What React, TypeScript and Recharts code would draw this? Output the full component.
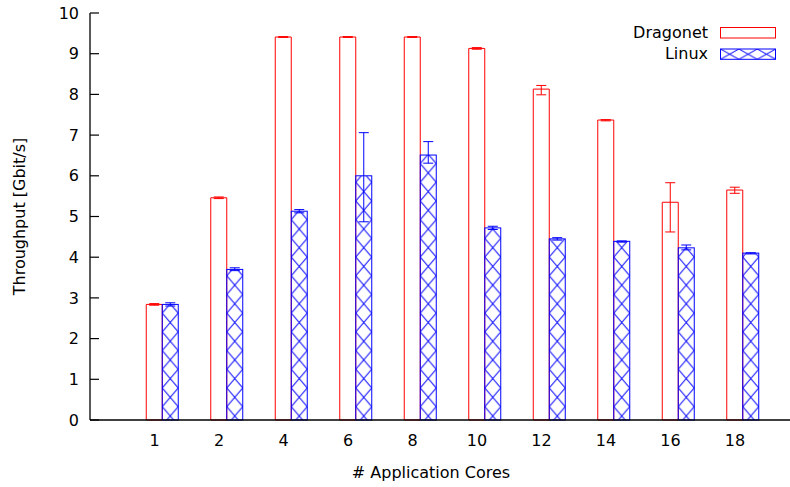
import { BarChart, Bar, XAxis, YAxis, ErrorBar, Label } from "recharts";

// # application cores on the x axis
const cores = ["1", "2", "4", "6", "8", "10", "12", "14", "16", "18"];

// Dragonet throughput (Gbit/s): mean, lower and upper error bound
const dragonetMean = [2.84, 5.46, 9.41, 9.41, 9.41, 9.13, 8.13, 7.37, 5.35, 5.65];
const dragonetLow = [2.82, 5.44, 9.4, 9.4, 9.4, 9.11, 7.99, 7.35, 4.62, 5.57];
const dragonetHigh = [2.86, 5.48, 9.42, 9.42, 9.42, 9.15, 8.22, 7.38, 5.83, 5.72];

// Linux throughput (Gbit/s)
const linuxMean = [2.84, 3.7, 5.13, 6.0, 6.51, 4.72, 4.45, 4.39, 4.23, 4.1];
const linuxLow = [2.8, 3.67, 5.09, 4.87, 6.31, 4.68, 4.42, 4.37, 4.18, 4.08];
const linuxHigh = [2.88, 3.74, 5.17, 7.06, 6.84, 4.76, 4.48, 4.4, 4.3, 4.11];

const yTicks = [0, 1, 2, 3, 4, 5, 6, 7, 8, 9, 10];

const data = cores.map((c, i) => ({
  cores: c,
  dragonet: dragonetMean[i],
  dragonetErr: [dragonetMean[i] - dragonetLow[i], dragonetHigh[i] - dragonetMean[i]],
  linux: linuxMean[i],
  linuxErr: [linuxMean[i] - linuxLow[i], linuxHigh[i] - linuxMean[i]],
}));

const RED = "#ff0000";
const BLUE = "#0000ff";
const FONT = "'DejaVu Sans', sans-serif";
const TICK_LEN = 9;
const PAD_L = 32.25;
const PAD_R = 22.75;

const HatchBar = (props: any) => {
  const { x, y, width, height, index } = props;
  if (!height || height <= 0) return null;
  const id = `hatch-${index}`;
  const period = 18.7;
  const bottom = y + height;
  return (
    <g>
      <defs>
        <pattern
          id={id}
          patternUnits="userSpaceOnUse"
          x={x}
          y={bottom - 4 - period / 2}
          width={width}
          height={period}
        >
          <path
            d={`M0,0L${width},${period}M${width},0L0,${period}`}
            stroke={BLUE}
            strokeWidth={1}
            fill="none"
          />
        </pattern>
      </defs>
      <rect x={x} y={y} width={width} height={height} fill={`url(#${id})`} stroke={BLUE} strokeWidth={1} />
    </g>
  );
};

// y label plus inward tick marks along the left border
const YLabel = (props: any) => {
  const { viewBox } = props;
  const cx = viewBox.x + 25;
  const cy = viewBox.y + viewBox.height / 2;
  const right = viewBox.x + viewBox.width;
  const top = yTicks[yTicks.length - 1];
  return (
    <g>
      {yTicks.map((v) => {
        const ty = viewBox.y + viewBox.height * (1 - v / top);
        return <path key={v} d={`M${right},${ty}h${TICK_LEN}`} stroke="#000" strokeWidth={1.2} fill="none" />;
      })}
      <text
        x={cx}
        y={cy}
        transform={`rotate(-90 ${cx} ${cy})`}
        textAnchor="middle"
        fontSize={16}
        fill="#000"
        fontFamily={FONT}
      >
        Throughput [Gbit/s]
      </text>
    </g>
  );
};

// mirrored x tick marks hanging from the top border
const TopTicks = (props: any) => {
  const { viewBox } = props;
  const band = (viewBox.width - PAD_L - PAD_R) / cores.length;
  return (
    <g>
      {cores.map((c, i) => {
        const tx = viewBox.x + PAD_L + band * (i + 0.5);
        return <path key={c} d={`M${tx},${viewBox.y}v${TICK_LEN}`} stroke="#000" strokeWidth={1.2} fill="none" />;
      })}
    </g>
  );
};

const KeyBox = () => (
  <svg width={790} height={487} style={{ position: "absolute", left: 0, top: 0, pointerEvents: "none" }}>
    <defs>
      <pattern id="key-hatch" patternUnits="userSpaceOnUse" x={720.5} y={49} width={18.4} height={10.3}>
        <path d="M0,0L18.4,10.3M18.4,0L0,10.3" stroke={BLUE} strokeWidth={1} fill="none" />
      </pattern>
    </defs>
    <text x={708} y={37.5} textAnchor="end" fontSize={16} fontFamily={FONT} fill="#000">
      Dragonet
    </text>
    <rect x={720.5} y={27.5} width={55} height={10.5} fill="none" stroke={RED} strokeWidth={1} />
    <text x={708} y={58.5} textAnchor="end" fontSize={16} fontFamily={FONT} fill="#000">
      Linux
    </text>
    <rect x={720.5} y={49} width={55} height={10.3} fill="url(#key-hatch)" stroke={BLUE} strokeWidth={1} />
  </svg>
);

export default function App() {
  return (
    <div style={{ position: "absolute", left: 0, top: 0, width: 790, height: 487, fontFamily: FONT, background: "#fff" }}>
      <BarChart width={790} height={487} data={data} margin={{ top: 13, right: 0, bottom: 0, left: 0 }}>
        <XAxis
          xAxisId="main"
          dataKey="cores"
          height={67}
          padding={{ left: PAD_L, right: PAD_R }}
          interval={0}
          tickLine={false}
          tickSize={0}
          tickMargin={15}
          axisLine={{ stroke: "#000", strokeWidth: 1.3 }}
          tick={{ fill: "#000", fontSize: 16 }}
        >
          <Label value="# Application Cores" position="insideBottom" offset={9} dx={-9} fill="#000" fontSize={16} />
        </XAxis>
        <XAxis
          xAxisId="top"
          orientation="top"
          dataKey="cores"
          height={0}
          padding={{ left: PAD_L, right: PAD_R }}
          interval={0}
          tickLine={false}
          tick={false}
          axisLine={{ stroke: "#000", strokeWidth: 1.3 }}
        >
          <Label content={TopTicks} />
        </XAxis>
        <XAxis
          xAxisId="blue"
          orientation="top"
          dataKey="cores"
          hide
          height={0}
          padding={{ left: PAD_L + 16, right: PAD_R - 16 }}
        />
        <YAxis
          type="number"
          domain={[0, 10]}
          ticks={yTicks}
          interval={0}
          width={90}
          tickLine={false}
          tickSize={0}
          tickMargin={11}
          axisLine={{ stroke: "#000", strokeWidth: 1.3 }}
          tick={{ fill: "#000", fontSize: 16 }}
          label={<Label content={YLabel} />}
        />
        <Bar
          xAxisId="main"
          dataKey="dragonet"
          barSize={16}
          fill="none"
          stroke={RED}
          strokeWidth={1}
          isAnimationActive={false}
        >
          <ErrorBar dataKey="dragonetErr" direction="y" width={5} stroke={RED} strokeWidth={1} />
        </Bar>
        <Bar
          xAxisId="blue"
          dataKey="linux"
          barSize={16}
          fill="none"
          shape={HatchBar}
          isAnimationActive={false}
        >
          <ErrorBar dataKey="linuxErr" direction="y" width={5} stroke={BLUE} strokeWidth={1} />
        </Bar>
      </BarChart>
      <KeyBox />
    </div>
  );
}
